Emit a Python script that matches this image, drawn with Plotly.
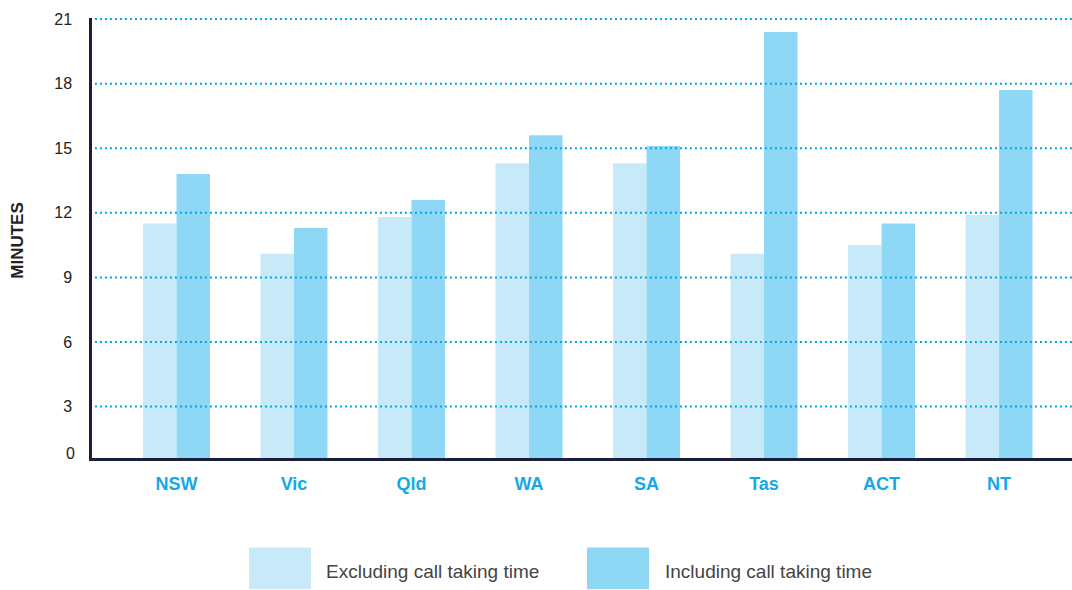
import plotly.graph_objects as go

states = ["NSW", "Vic", "Qld", "WA", "SA", "Tas", "ACT", "NT"]
excluding = [11.5, 10.1, 11.8, 14.3, 14.3, 10.1, 10.5, 11.9]
including = [13.8, 11.3, 12.6, 15.6, 15.1, 20.4, 11.5, 17.7]
series_names = ["Excluding call taking time", "Including call taking time"]
y_ticks = [3, 6, 9, 12, 15, 18, 21]

c_excl = "#c7e9f8"
c_incl = "#8fd8f5"
grid_c = "#00a7e7"
axis_c = "#1b1f3f"

W, H = 1072, 590
L, T, B = 92, 18, 131.5
PW, PH = W - L, H - T - B


def px_x(px):
    return (px - L) / PW


def px_y(py):
    return (H - B - py) / PH


fig = go.Figure()
fig.add_trace(go.Bar(x=states, y=excluding, name=series_names[0],
                     marker=dict(color=c_excl, line=dict(width=0)), showlegend=False))
fig.add_trace(go.Bar(x=states, y=including, name=series_names[1],
                     marker=dict(color=c_incl, line=dict(width=0)), showlegend=False))

shapes = []
for v in y_ticks:
    shapes.append(dict(type="line", xref="paper", yref="y", x0=0.003, x1=1, y0=v, y1=v,
                       line=dict(color=grid_c, width=2, dash="2px,3px"), layer="above"))

# legend swatches
shapes.append(dict(type="rect", xref="paper", yref="paper", x0=px_x(249), x1=px_x(311),
                   y0=px_y(590), y1=px_y(548), fillcolor=c_excl, line=dict(width=0)))
shapes.append(dict(type="rect", xref="paper", yref="paper", x0=px_x(587), x1=px_x(649),
                   y0=px_y(590), y1=px_y(548), fillcolor=c_incl, line=dict(width=0)))

annotations = [
    dict(text=series_names[0], xref="paper", yref="paper", x=px_x(324), y=px_y(572),
         xanchor="left", yanchor="middle", showarrow=False,
         font=dict(family="Arial", size=19, color="#444444")),
    dict(text=series_names[1], xref="paper", yref="paper", x=px_x(663), y=px_y(572),
         xanchor="left", yanchor="middle", showarrow=False,
         font=dict(family="Arial", size=19, color="#444444")),
    dict(text="0", xref="paper", yref="paper", x=0, y=0, xanchor="right", yanchor="middle",
         xshift=-15, yshift=5, showarrow=False,
         font=dict(family="Arial", size=16, color="#222222")),
    dict(text="<b>MINUTES</b>", xref="paper", yref="paper", x=px_x(18), y=px_y(241),
         xanchor="center", yanchor="middle", textangle=-90, showarrow=False,
         font=dict(family="Arial", size=17, color="#222222")),
]

fig.update_layout(
    width=W, height=H,
    margin=dict(l=L, r=0, t=T, b=B, autoexpand=False),
    paper_bgcolor="white", plot_bgcolor="white",
    barmode="group", bargap=0.43, bargroupgap=0,
    shapes=shapes, annotations=annotations,
    xaxis=dict(type="category", range=[-0.719, 7.621], showgrid=False,
               showline=True, linecolor=axis_c, linewidth=2.5,
               ticks="", ticklabelstandoff=8, automargin=False,
               tickfont=dict(family="Arial", size=18, color="#12a9e6", weight="bold")),
    yaxis=dict(range=[0.61, 21.05], showgrid=False, zeroline=False,
               showline=True, linecolor=axis_c, linewidth=2.5,
               tickvals=y_ticks, ticks="", ticklabelstandoff=14, automargin=False,
               tickfont=dict(family="Arial", size=16, color="#222222")),
)

fig.write_html("out.html", config={"displayModeBar": False},
               post_script="document.body.style.margin='0';")
